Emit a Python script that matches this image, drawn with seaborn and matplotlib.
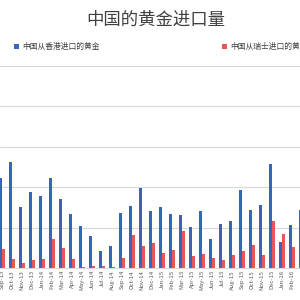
import numpy as np
import pandas as pd
import matplotlib
matplotlib.use("Agg")
import matplotlib.pyplot as plt
import seaborn as sns

MONTHS = ["Sep-13", "Oct-13", "Nov-13", "Dec-13", "Jan-14", "Feb-14", "Mar-14", "Apr-14",
          "May-14", "Jun-14", "Jul-14", "Aug-14", "Sep-14", "Oct-14", "Nov-14", "Dec-14",
          "Jan-15", "Feb-15", "Mar-15", "Apr-15", "May-15", "Jun-15", "Jul-15", "Aug-15",
          "Sep-15", "Oct-15", "Nov-15", "Dec-15", "Jan-16", "Feb-16", "Mar-16"]

# tonnes
HK = [110.9, 131.1, 75.7, 94.3, 89.0, 111.7, 84.9, 66.3, 51.4, 39.7, 21.1, 26.9,
      67.5, 76.9, 98.9, 70.7, 75.7, 67.0, 65.4, 50.9, 70.0, 36.5, 54.2, 58.3,
      96.8, 71.2, 78.2, 128.7, 32.3, 53.0, 71.2]
CH = [23.2, 11.2, 6.2, 9.9, 10.8, 36.0, 24.8, 10.8, 0.9, 2.1, 2.1, 1.7,
      12.0, 41.4, 26.9, 30.6, 18.6, 22.8, 45.9, 14.5, 17.4, 12.9, 9.9, 16.1,
      20.7, 28.5, 15.8, 58.3, 42.2, 26.6, np.nan]

HK_LABEL = "中国从香港进口的黄金"
CH_LABEL = "中国从瑞士进口的黄金"

df = pd.DataFrame({"month": MONTHS * 2,
                   "value": HK + CH,
                   "source": [HK_LABEL] * len(MONTHS) + [CH_LABEL] * len(MONTHS)})

sns.set_theme(style="white")
plt.rcParams["font.family"] = ["Noto Sans CJK SC", "DejaVu Sans"]

fig = plt.figure(figsize=(3, 3), dpi=100)
ax = fig.add_axes([0, (300 - 268) / 300, 1, (268 - 66) / 300])

sns.barplot(data=df, x="month", y="value", hue="source", order=MONTHS,
            palette=["#3566b8", "#e8565b"], width=0.6, gap=0, ax=ax,
            saturation=1, linewidth=0)

ax.set_xlim(-0.2, 29.8)
ax.set_ylim(0, 250)
ax.set_yticks([50, 100, 150, 200, 250])
ax.yaxis.grid(True, color="#d9d9d9", linewidth=0.9)
ax.set_axisbelow(True)
ax.set_yticklabels([])
ax.tick_params(axis="y", length=0)
ax.tick_params(axis="x", length=0, pad=1.5, labelsize=4.3, labelcolor="#595959")
plt.setp(ax.get_xticklabels(), rotation=90)
ax.set_xlabel("")
ax.set_ylabel("")
for side in ["left", "right", "top"]:
    ax.spines[side].set_visible(False)
ax.spines["bottom"].set_color("#d9d9d9")
ax.spines["bottom"].set_linewidth(0.8)

handles, labels = ax.get_legend_handles_labels()
ax.get_legend().remove()
for h, l, x0 in zip(handles, labels, [14 / 300, 222 / 300]):
    fig.legend(handles=[h], labels=[l], loc="center left",
               bbox_to_anchor=(x0, 1 - 47 / 300), frameon=False, fontsize=5.6,
               handlelength=0.7, handleheight=0.7, handletextpad=0.4,
               borderpad=0, borderaxespad=0, labelcolor="#404040")

fig.text(0.52, 1 - 20 / 300, "中国的黄金进口量", ha="center", va="center",
         fontsize=12.5, color="#404040")

fig.savefig("out.png", dpi=100)
